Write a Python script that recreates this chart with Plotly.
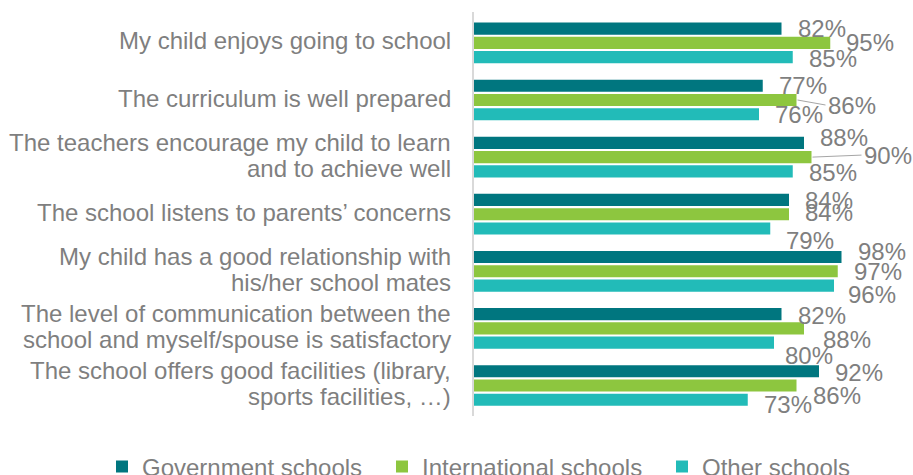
import plotly.graph_objects as go

categories = [
    "My child enjoys going to school",
    "The curriculum is well prepared",
    "The teachers encourage my child to learn<br>and to achieve well",
    "The school listens to parents’ concerns",
    "My child has a good relationship with<br>his/her school mates",
    "The level of communication between the<br>school and myself/spouse is satisfactory",
    "The school offers good facilities (library,<br>sports facilities, …)",
]
series_names = ["Government schools", "International schools", "Other schools"]
government = [0.82, 0.77, 0.88, 0.84, 0.98, 0.82, 0.92]
international = [0.95, 0.86, 0.90, 0.84, 0.97, 0.88, 0.86]
other = [0.85, 0.76, 0.85, 0.79, 0.96, 0.80, 0.73]

colors = ["#00767f", "#8dc63f", "#22bbb8"]
values = [government, international, other]

# label placement tweaks (pixels): extra x offset, extra y offset (down +), leader line
slot_px = [-14.4, 0.0, 14.4]
label_dx = [
    [0, 0, 0, 0, 0, 0, 0],
    [0, 14, 35, 0, 0, 3, 0],
    [0, 0, 0, 0, -2, -5, 0],
]
label_dy = [
    [0, 0, -5, 1, -5, 1, 1],
    [0, 5, -2, -2, 0, 11, 10],
    [1, 0, 1, 12, 9, 13, 5],
]
leader = [
    [False] * 7,
    [False, True, True, False, False, False, False],
    [False] * 7,
]

TXT = "#7f7f7f"
FONT = "Liberation Sans, Arial, sans-serif"
LINE_PX = 26

fig = go.Figure()
for name, vals, col in zip(series_names, values, colors):
    fig.add_trace(go.Bar(
        y=categories, x=vals, name=name, orientation="h",
        marker=dict(color=col, line=dict(width=0)),
        hoverinfo="x+name",
    ))

annotations = []
# category labels (drawn as text so multi-line spacing matches)
for cat in categories:
    lines = cat.split("<br>")
    n = len(lines)
    for k, line in enumerate(lines):
        annotations.append(dict(
            x=0, y=cat, xref="paper", yref="y", text=line,
            showarrow=False, xanchor="right", yanchor="middle",
            xshift=-21, yshift=((n - 1) / 2 - k) * LINE_PX + 2,
            font=dict(family=FONT, size=24, color=TXT),
        ))

for s, vals in enumerate(values):
    for i, v in enumerate(vals):
        txt = f"{round(v * 100)}%"
        base_shift = -slot_px[s]
        if leader[s][i]:
            annotations.append(dict(
                x=v, y=categories[i], xref="x", yref="y", text=txt,
                showarrow=True, arrowhead=0, arrowwidth=1, arrowcolor="#a6a6a6",
                ax=14 + label_dx[s][i], ay=label_dy[s][i], xanchor="left", yanchor="middle",
                xshift=1, yshift=base_shift, standoff=0,
                font=dict(family=FONT, size=24, color=TXT),
            ))
        else:
            annotations.append(dict(
                x=v, y=categories[i], xref="x", yref="y", text=txt,
                showarrow=False, xanchor="left", yanchor="middle",
                xshift=14 + label_dx[s][i], yshift=base_shift - label_dy[s][i],
                font=dict(family=FONT, size=24, color=TXT),
            ))

fig.update_layout(
    width=913, height=475,
    margin=dict(l=474, r=64, t=12, b=59, autoexpand=False),
    paper_bgcolor="white", plot_bgcolor="white",
    barmode="group", bargap=0.25, bargroupgap=0.15,
    font=dict(family=FONT, size=24, color=TXT),
    xaxis=dict(range=[0, 1], visible=False, fixedrange=True),
    yaxis=dict(
        type="category", autorange="reversed",
        showline=True, linecolor="#d9d9d9", linewidth=2,
        showgrid=False, ticks="", showticklabels=False,
        fixedrange=True,
    ),
    legend=dict(
        orientation="h", xref="paper", yref="paper",
        x=-0.992, y=-0.126, xanchor="left", yanchor="middle",
        font=dict(family=FONT, size=24, color=TXT),
        entrywidth=235, entrywidthmode="pixels",
        bgcolor="rgba(0,0,0,0)",
    ),
    annotations=annotations,
    showlegend=True,
)

fig.write_html("out.html")
